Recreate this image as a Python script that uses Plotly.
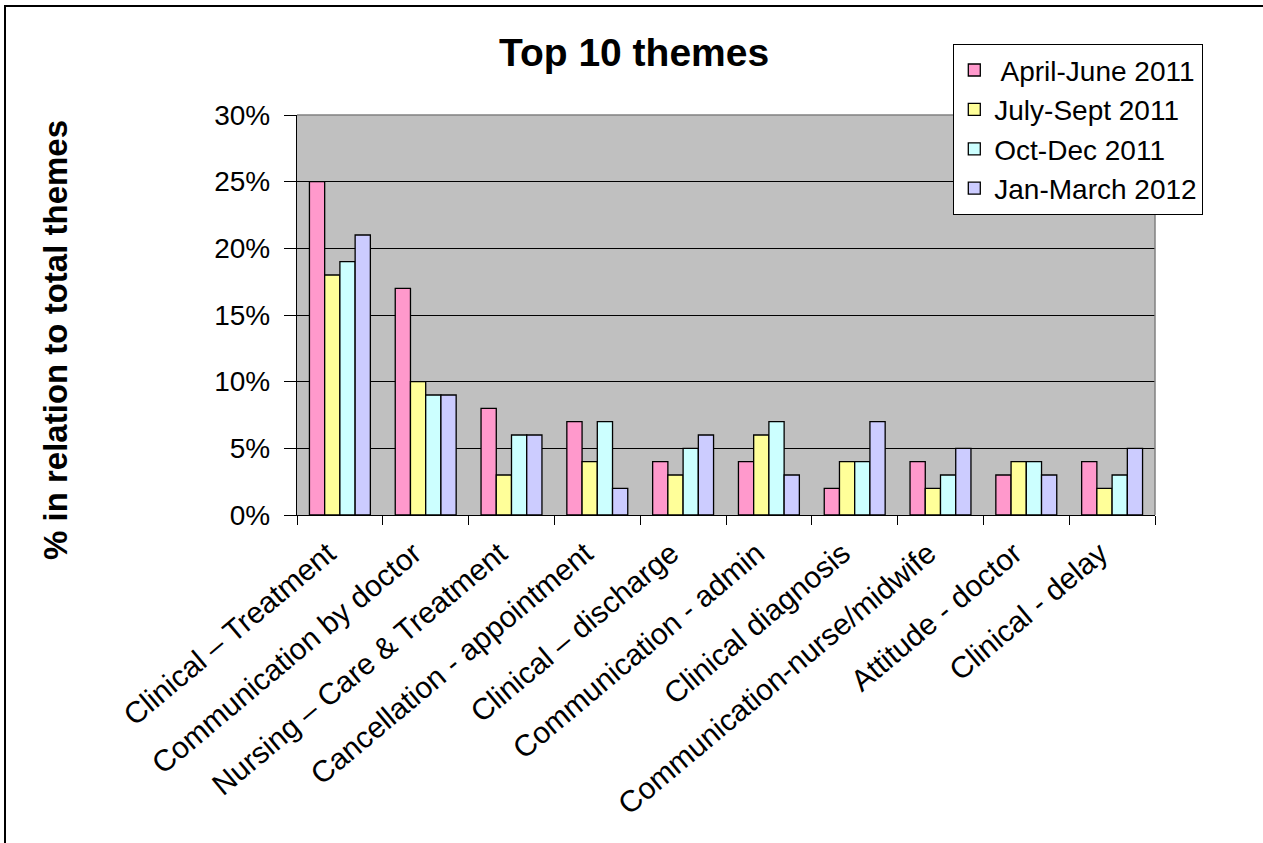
import plotly.graph_objects as go

categories = ["Clinical \u2013 Treatment", "Communication by doctor", "Nursing \u2013 Care & Treatment",
              "Cancellation - appointment", "Clinical \u2013 discharge", "Communication - admin",
              "Clinical diagnosis", "Communication-nurse/midwife", "Attitude - doctor", "Clinical - delay"]
series_names = [" April-June 2011", "July-Sept 2011", "Oct-Dec 2011", "Jan-March 2012"]
april_june_2011 = [25, 17, 8, 7, 4, 4, 2, 4, 3, 4]
july_sept_2011 = [18, 10, 3, 4, 3, 6, 4, 2, 4, 2]
oct_dec_2011 = [19, 9, 6, 7, 5, 7, 4, 3, 4, 3]
jan_march_2012 = [21, 9, 6, 2, 6, 3, 7, 5, 3, 5]
y_ticks = [0, 5, 10, 15, 20, 25, 30]
y_tick_labels = ["0%", "5%", "10%", "15%", "20%", "25%", "30%"]

colors = ["#FF99CC", "#FFFF99", "#CCFFFF", "#CCCCFF"]
FONT = "Arial, 'Liberation Sans', sans-serif"

W, H = 1263, 843
L, R, T, B = 297, 1155, 115, 515
pw, ph = R - L, B - T

fig = go.Figure()
for name, vals, col in zip(series_names, [april_june_2011, july_sept_2011, oct_dec_2011, jan_march_2012], colors):
    fig.add_trace(go.Bar(x=categories, y=vals, name=name,
                         marker=dict(color=col, line=dict(color="black", width=1.3))))

def px_x(p):
    return (p - L) / pw

def px_y(p):
    return (B - p) / ph

fig.update_layout(
    width=W, height=H,
    margin=dict(l=L, r=W - R, t=T, b=H - B, pad=0),
    paper_bgcolor="white", plot_bgcolor="#C0C0C0",
    barmode="group", bargap=0.29, bargroupgap=0,
    font=dict(family=FONT, color="black", size=27),
    showlegend=True,
    legend=dict(x=px_x(953), y=px_y(44), xanchor="left", yanchor="top",
                bgcolor="white", bordercolor="black", borderwidth=1.3,
                font=dict(size=28, family=FONT), tracegroupgap=0,
                itemwidth=30),
    xaxis=dict(showline=True, linecolor="black", linewidth=1.3,
               ticks="outside", ticklen=9, tickcolor="black", tickwidth=1.3,
               tickson="boundaries", tickangle=-40,
               ticklabelstandoff=8, ticklabelshift=-12,
               tickfont=dict(size=30, family=FONT),
               showgrid=False, fixedrange=True),
    yaxis=dict(range=[0, 30], tickmode="array", tickvals=y_ticks, ticktext=y_tick_labels,
               showline=True, linecolor="black", linewidth=1.3,
               ticks="outside", ticklen=12, tickcolor="black", tickwidth=1.3,
               ticklabelstandoff=8,
               showgrid=True, gridcolor="black", gridwidth=1.3,
               zeroline=False,
               tickfont=dict(size=28, family=FONT), fixedrange=True),
    shapes=[
        dict(type="line", xref="paper", yref="paper", x0=0, x1=1, y0=1, y1=1,
             line=dict(color="#808080", width=1.5), layer="above"),
        dict(type="line", xref="paper", yref="paper", x0=1, x1=1, y0=0, y1=1,
             line=dict(color="#808080", width=1.5), layer="above"),
        dict(type="rect", xref="paper", yref="paper",
             x0=px_x(5), x1=px_x(1300), y0=px_y(870), y1=px_y(6),
             line=dict(color="black", width=2), fillcolor="rgba(0,0,0,0)", layer="above"),
    ],
    annotations=[
        dict(text="<b>Top 10 themes</b>", xref="paper", yref="paper",
             x=px_x(634), y=px_y(53), xanchor="center", yanchor="middle",
             showarrow=False, font=dict(size=39, family=FONT)),
        dict(text="<b>% in relation to total themes</b>", xref="paper", yref="paper",
             x=px_x(55), y=px_y(340), xanchor="center", yanchor="middle", textangle=-90,
             showarrow=False, font=dict(size=33, family=FONT)),
    ],
)

fig.write_html("out.html")
